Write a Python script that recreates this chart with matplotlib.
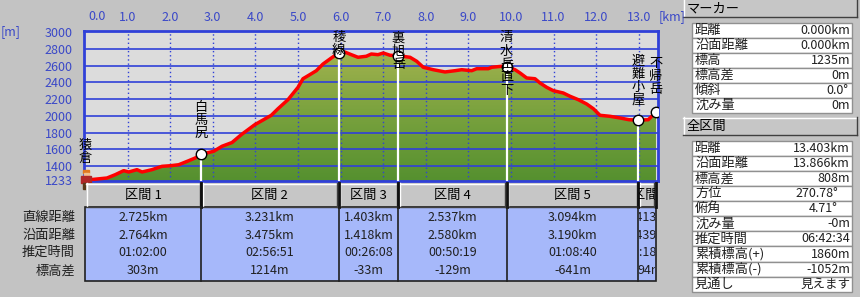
import matplotlib
matplotlib.use('Agg')
import matplotlib.pyplot as plt
import numpy as np
from matplotlib.patches import Rectangle, Polygon
from matplotlib.colors import LinearSegmentedColormap
from matplotlib.transforms import Bbox

plt.rcParams['font.family'] = ['Noto Sans CJK JP', 'DejaVu Sans']

# ---------------- data ----------------
dist_km = [0.000, 0.164, 0.516, 0.711, 0.908, 1.026, 1.221, 1.338, 1.573, 1.808,
           2.002, 2.200, 2.434, 2.589, 2.725, 3.021, 3.216, 3.451, 3.669, 3.984,
           4.373, 4.531, 4.765, 5.000, 5.117, 5.275, 5.430, 5.587, 5.782, 5.956,
           6.096, 6.251, 6.408, 6.603, 6.721, 6.878, 7.002, 7.160, 7.359, 7.629,
           7.786, 7.941, 8.176, 8.451, 8.685, 8.843, 9.077, 9.195, 9.467, 9.547,
           9.782, 9.896, 10.094, 10.211, 10.368, 10.563, 10.681, 10.838, 10.993, 11.228,
           11.385, 11.580, 11.777, 11.932, 12.089, 12.324, 12.559, 12.770, 12.990, 13.223,
           13.340, 13.403]
elev_m = [1235, 1237, 1255, 1295, 1343, 1327, 1355, 1327, 1355, 1395,
          1402, 1414, 1462, 1495, 1538, 1575, 1635, 1680, 1774, 1893,
          2006, 2085, 2193, 2341, 2444, 2492, 2540, 2620, 2692, 2752,
          2764, 2732, 2701, 2713, 2740, 2732, 2752, 2725, 2719, 2701,
          2653, 2581, 2552, 2525, 2540, 2552, 2540, 2564, 2564, 2581,
          2593, 2590, 2552, 2513, 2453, 2444, 2393, 2341, 2301, 2273,
          2234, 2193, 2141, 2085, 2006, 1994, 1974, 1953, 1949, 1953,
          2013, 2043]

wp_names = ['猿倉', '白馬尻', '稜線', '裏旭岳', '清水岳直下', '避難小屋', '不帰岳']
wp_km = [0.0, 2.725, 5.956, 7.359, 9.896, 12.990, 13.403]
wp_elev = [1235, 1538, 2752, 2719, 2590, 1949, 2043]

x_ticks = list(range(1, 14))
x_ticklabels = ['1.0', '2.0', '3.0', '4.0', '5.0', '6.0', '7.0', '8.0', '9.0',
                '10.0', '11.0', '12.0', '13.0']
y_ticks = [3000, 2800, 2600, 2400, 2200, 2000, 1800, 1600, 1400, 1233]
y_ticklabels = ['3000', '2800', '2600', '2400', '2200', '2000', '1800', '1600', '1400', '1233']

sections = ['区間 1', '区間 2', '区間 3', '区間 4', '区間 5', '区間 6']
row_labels = ['直線距離', '沿面距離', '推定時間', '標高差']
sec_straight = ['2.725km', '3.231km', '1.403km', '2.537km', '3.094km', '0.413km']
sec_surface = ['2.764km', '3.475km', '1.418km', '2.580km', '3.190km', '0.439km']
sec_time = ['01:02:00', '02:56:51', '00:26:08', '00:50:19', '01:08:40', '00:18:36']
sec_diff = ['303m', '1214m', '-33m', '-129m', '-641m', '94m']

marker_labels = ['距離', '沿面距離', '標高', '標高差', '傾斜', '沈み量']
marker_values = ['0.000km', '0.000km', '1235m', '0m', '0.0°', '0m']
total_labels = ['距離', '沿面距離', '標高差', '方位', '俯角', '沈み量', '推定時間',
                '累積標高(+)', '累積標高(-)', '見通し']
total_values = ['13.403km', '13.866km', '808m', '270.78°', '4.71°', '-0m', '06:42:34',
                '1860m', '-1052m', '見えます']

# ---------------- style ----------------
BG = '#c3c3c3'
PLOTBG = '#dcdcdc'
BLUE = '#3040d8'
TXTBLUE = '#3a48c8'
CELLBLUE = '#a6b8fa'
HDR = '#c6c6c6'

W, H = 860, 297
fig = plt.figure(figsize=(W / 100, H / 100), dpi=100, facecolor=BG)

X0, KPX = 85.0, 42.6
Y3000, MPX = 32.3, 0.0835


def kx(km):
    return X0 + km * KPX


L, R, T, B = 84, 658, 31, 181
ax = fig.add_axes([L / W, 1 - B / H, (R - L) / W, (B - T) / H])
xlim = ((L - X0) / KPX, (R - X0) / KPX)
ylim = (3000 - (B - Y3000) / MPX, 3000 - (T - Y3000) / MPX)
ax.set_facecolor(PLOTBG)

# gradient fill under profile
ymin = ylim[0]
poly = Polygon(np.column_stack([[dist_km[0]] + dist_km + [dist_km[-1]],
                                [ymin] + elev_m + [ymin]]),
               closed=True, facecolor='none', edgecolor='none')
ax.add_patch(poly)
cmap = LinearSegmentedColormap.from_list('g', ['#55902f', '#7aa23e', '#a6b450'])
grad = np.linspace(0, 1, 256).reshape(-1, 1)
im = ax.imshow(grad, extent=[dist_km[0], dist_km[-1], ymin, 2850], origin='lower',
               cmap=cmap, aspect='auto', zorder=1, interpolation='bilinear')
im.set_clip_path(poly)

# grid
for yv in y_ticks[1:-1]:
    ax.axhline(yv, color=BLUE, lw=1.2, zorder=2)
for xv in x_ticks:
    ax.axvline(xv, color=BLUE, lw=1.0, ls=(0, (1, 2)), zorder=2)

# waypoint lines and markers
for k, e in zip(wp_km[1:-1], wp_elev[1:-1]):
    ax.plot([k, k], [ymin, e], color='white', lw=1.6, zorder=3)
ax.plot(dist_km, elev_m, color='#ff0000', lw=2.5, zorder=4, solid_capstyle='butt')
ax.plot(wp_km[1:], wp_elev[1:], 'o', ms=7.5, mfc='white', mec='black', mew=1.0, zorder=5)

ax.set_xlim(*xlim)
ax.set_ylim(*ylim)
for s in ax.spines.values():
    s.set_color(BLUE)
    s.set_linewidth(2)

ax.set_yticks(y_ticks)
ax.set_yticklabels(y_ticklabels, color=TXTBLUE, fontsize=9)
ax.tick_params(axis='y', length=0, pad=8)
ax.xaxis.tick_top()
ax.set_xticks(x_ticks)
ax.set_xticklabels(x_ticklabels, color=TXTBLUE, fontsize=9)
ax.tick_params(axis='x', length=0, pad=5)

# ---------------- overlay ----------------
ov = fig.add_axes([0, 0, 1, 1], zorder=10)
ov.set_xlim(0, W)
ov.set_ylim(H, 0)
ov.axis('off')
ov.patch.set_alpha(0)

ov.text(97, 17, '0.0', color=TXTBLUE, fontsize=9, ha='center', va='center')
ov.text(11, 32, '[m]', color=TXTBLUE, fontsize=9, ha='center', va='center')
ov.text(672, 17, '[km]', color=TXTBLUE, fontsize=9, ha='center', va='center')

# waypoint labels (vertical)
label_top = [145, 107, 37, 38, 38, 61, 63]
for name, k, y0 in zip(wp_names, wp_km, label_top):
    for j, ch in enumerate(name):
        ov.text(kx(k), y0 + j * 13.2, ch, fontsize=9.5, ha='center', va='center', color='black')

# hiker icon
ov.add_patch(Rectangle((83, 170), 6, 3, color='#e0781e'))
ov.add_patch(Rectangle((84, 173), 5, 3, color='#f0c090'))
ov.add_patch(Rectangle((81, 176), 10, 7, color='#b02828'))
ov.add_patch(Rectangle((83, 183), 3, 6, color='#5a3a1a'))
ov.add_patch(Rectangle((88, 183), 3, 6, color='#5a3a1a'))


def button(x0, y0, x1, y1, fill=HDR):
    ov.add_patch(Rectangle((x0, y0), x1 - x0, y1 - y0, facecolor=fill, edgecolor='none'))
    ov.plot([x0, x1], [y0 + 0.5, y0 + 0.5], color='white', lw=1)
    ov.plot([x0 + 0.5, x0 + 0.5], [y0, y1], color='white', lw=1)
    ov.plot([x0, x1], [y1 - 0.5, y1 - 0.5], color='#404040', lw=1)
    ov.plot([x1 - 0.5, x1 - 0.5], [y0, y1], color='#404040', lw=1)


def pixclip(x0, y0, x1, y1):
    # pixel (top-left origin) -> display bbox
    return Bbox.from_extents(x0, H - y1, x1, H - y0)


# section table
cb = [kx(k) for k in wp_km]
HT, HB, DB = 183, 207, 280.5
for i, name in enumerate(sections):
    x0, x1 = cb[i], cb[i + 1]
    button(x0 + 1, HT, x1 - 1, HB)
    t = ov.text((x0 + x1) / 2 + (3 if i == 5 else 0), (HT + HB) / 2, name, fontsize=9.5,
                ha='center', va='center', clip_on=True)
    t.set_clip_path(None)
    t.set_clip_box(pixclip(x0 + 1, HT, x1 - 1, HB))
for x in cb[1:]:
    ov.plot([x, x], [HT, HB], color='#101010', lw=2)
ov.add_patch(Rectangle((cb[0], HB), cb[-1] - cb[0], DB - HB, facecolor=CELLBLUE,
                       edgecolor='#202020', lw=1.2))
for x in cb[1:-1]:
    ov.plot([x, x], [HB, DB], color='#202020', lw=1.2)

row_y = [217.3, 235.7, 252.7, 270.7]
for lab, y in zip(row_labels, row_y):
    ov.text(75, y, lab, fontsize=9.5, ha='right', va='center', color='#202020')
for vals, y in zip([sec_straight, sec_surface, sec_time, sec_diff], row_y):
    for i, v in enumerate(vals):
        x0, x1 = cb[i], cb[i + 1]
        t = ov.text((x0 + x1) / 2 + (3 if i == 5 else 0), y, v, fontsize=9,
                    ha='center', va='center', color='#202020', clip_on=True)
        t.set_clip_path(None)
        t.set_clip_box(pixclip(x0 + 1, HB, x1 - 1, DB))

# right panels
button(683, -2, 857, 17)
ov.text(687, 8.5, 'マーカー', fontsize=9.5, ha='left', va='center')
button(683, 117, 857, 135)
ov.text(687, 126.5, '全区間', fontsize=9.5, ha='left', va='center')

deg_offset = {'0.0°': 848, '270.78°': 838, '4.71°': 838}


def info_table(labels, values, ytop, rh):
    for j, (lab, val) in enumerate(zip(labels, values)):
        y0 = ytop + j * rh
        ov.add_patch(Rectangle((692, y0), 160, rh, facecolor='white',
                               edgecolor='#909090', lw=1))
        ov.text(695, y0 + rh / 2, lab, fontsize=9.5, ha='left', va='center', color='#202020')
        ov.text(deg_offset.get(val, 850), y0 + rh / 2, val, fontsize=9, ha='right',
                va='center', color='#202020')


info_table(marker_labels, marker_values, 22.5, 15.1)
info_table(total_labels, total_values, 141.0, 15.07)

fig.savefig('out.png', dpi=100, facecolor=BG)
